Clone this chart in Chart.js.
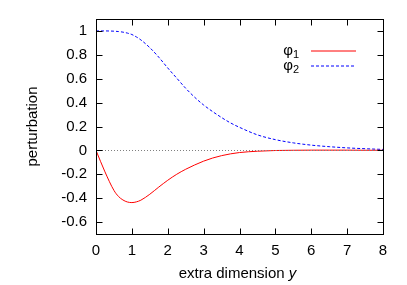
<!DOCTYPE html>
<html><head><meta charset="utf-8">
<script src="https://cdn.jsdelivr.net/npm/chart.js@4/dist/chart.umd.min.js"></script>
<style>html,body{margin:0;padding:0;background:#fff}#wrap{width:407px;height:285px}</style>
</head><body><div id="wrap"><canvas id="c"></canvas></div>
<script>
const xs   = [0,0.25,0.5,0.625,0.75,0.875,1,1.125,1.25,1.5,1.75,2,2.25,2.5,2.75,3,3.25,3.5,3.75,4,4.5,5,5.5,6,6.5,7,7.5,8];
const phi1 = [0,-0.18,-0.335,-0.385,-0.415,-0.432,-0.437,-0.431,-0.417,-0.367,-0.307,-0.25,-0.2,-0.158,-0.122,-0.09,-0.064,-0.044,-0.029,-0.018,-0.007,-0.001,0.001,0.002,0.002,0.002,0.001,0.001];
const phi2 = [1,1.0,0.998,0.995,0.99,0.982,0.97,0.95,0.925,0.86,0.78,0.69,0.605,0.52,0.445,0.38,0.325,0.275,0.23,0.193,0.13,0.09,0.063,0.044,0.031,0.021,0.014,0.008];
const xTicks = [0,1,2,3,4,5,6,7,8];
const yTicks = [-0.6,-0.4,-0.2,0,0.2,0.4,0.6,0.8,1];
const seriesNames = ['φ1','φ2'];
const seriesColors = ['rgb(255,0,0)','rgb(0,0,255)'];
const xTitle = ['extra dimension ', 'y'];
const yTitle = 'perturbation';

const FONT = '"Liberation Sans", Arial, Helvetica, sans-serif';
const FS = 15;

const framePlugin = {
  id: 'frame',
  afterDraw(chart) {
    const {ctx, chartArea: a, scales: {x, y}} = chart;
    ctx.save();
    // zero axis
    ctx.strokeStyle = '#808080'; ctx.lineWidth = 1; ctx.setLineDash([1,2]);
    const y0 = Math.round(y.getPixelForValue(0)) + 0.5;
    ctx.beginPath(); ctx.moveTo(a.left, y0); ctx.lineTo(a.right, y0); ctx.stroke();
    ctx.setLineDash([]);
    // frame
    ctx.strokeStyle = '#000'; ctx.lineWidth = 1;
    const L = Math.round(a.left)+0.5, R = Math.round(a.right)+0.5, T = Math.round(a.top)+0.5, B = Math.round(a.bottom)+0.5;
    ctx.strokeRect(L, T, R-L, B-T);
    const tl = 6;
    ctx.beginPath();
    xTicks.forEach(v => { const px = Math.round(x.getPixelForValue(v))+0.5; ctx.moveTo(px,B); ctx.lineTo(px,B-tl); ctx.moveTo(px,T); ctx.lineTo(px,T+tl); });
    yTicks.forEach(v => { const py = Math.round(y.getPixelForValue(v))+0.5; ctx.moveTo(L,py); ctx.lineTo(L+tl,py); ctx.moveTo(R,py); ctx.lineTo(R-tl,py); });
    ctx.stroke();
    // legend
    const dashes = [[], [3,2]];
    const rows = [51, 66];
    seriesNames.forEach((name, i) => {
      const ty = rows[i];
      ctx.fillStyle = '#000';
      ctx.textBaseline = 'middle';
      ctx.textAlign = 'right';
      ctx.font = '11px ' + FONT;
      const subW = ctx.measureText(name.slice(1)).width;
      ctx.fillText(name.slice(1), 299, ty + 4);
      ctx.font = FS + 'px ' + FONT;
      ctx.fillText(name[0], 299 - subW, ty);
    });
    seriesNames.forEach((name, i) => {
      const ty = rows[i];
      ctx.beginPath();
      ctx.strokeStyle = seriesColors[i]; ctx.lineWidth = 1;
      ctx.setLineDash(dashes[i]);
      ctx.moveTo(311, ty); ctx.lineTo(356, ty); ctx.stroke();
      ctx.setLineDash([]);
    });
    // x title with italic y
    ctx.fillStyle = '#000'; ctx.textBaseline = 'alphabetic'; ctx.textAlign = 'left';
    ctx.font = FS + 'px ' + FONT;
    const w1 = ctx.measureText(xTitle[0]).width;
    ctx.font = 'italic ' + FS + 'px ' + FONT;
    const w2 = ctx.measureText(xTitle[1]).width;
    const cx = (a.left + a.right) / 2 - 2;
    const sx = cx - (w1 + w2) / 2;
    ctx.font = FS + 'px ' + FONT;
    ctx.fillText(xTitle[0], sx, 278);
    ctx.font = 'italic ' + FS + 'px ' + FONT;
    ctx.fillText(xTitle[1], sx + w1, 278);
    ctx.restore();
  }
};

new Chart(document.getElementById('c'), {
  type: 'line',
  data: {
    datasets: [
      { label: seriesNames[0], data: xs.map((v,i)=>({x:v,y:phi1[i]})), borderColor: seriesColors[0], borderWidth: 1, pointRadius: 0, cubicInterpolationMode: 'monotone', fill: false },
      { label: seriesNames[1], data: xs.map((v,i)=>({x:v,y:phi2[i]})), borderColor: seriesColors[1], borderWidth: 1, borderDash: [3,2], pointRadius: 0, cubicInterpolationMode: 'monotone', fill: false }
    ]
  },
  options: {
    responsive: true, maintainAspectRatio: false, animation: false,
    devicePixelRatio: 1,
    layout: { padding: { top: 19, right: 24, left: 0, bottom: 0 } },
    plugins: { legend: { display: false }, tooltip: { enabled: false } },
    scales: {
      x: {
        type: 'linear', min: 0, max: 8,
        afterBuildTicks: s => { s.ticks = xTicks.map(v => ({value: v})); },
        afterFit: s => { s.height = 51; },
        grid: { display: false, drawTicks: false },
        border: { display: false },
        ticks: { color: '#000', font: { family: FONT, size: FS }, padding: 8, maxRotation: 0, callback: v => String(v) },
        title: { display: false }
      },
      y: {
        type: 'linear', min: -0.7, max: 1.1,
        afterBuildTicks: s => { s.ticks = yTicks.map(v => ({value: v})); },
        afterFit: s => { s.width = 96; },
        grid: { display: false, drawTicks: false },
        border: { display: false },
        ticks: { color: '#000', font: { family: FONT, size: FS }, padding: 9, callback: v => String(Math.round(v*10)/10) },
        title: { display: true, text: yTitle, color: '#000', font: { family: FONT, size: FS }, padding: { top: 24, bottom: 0 } }
      }
    }
  },
  plugins: [framePlugin]
});
</script></body></html>
